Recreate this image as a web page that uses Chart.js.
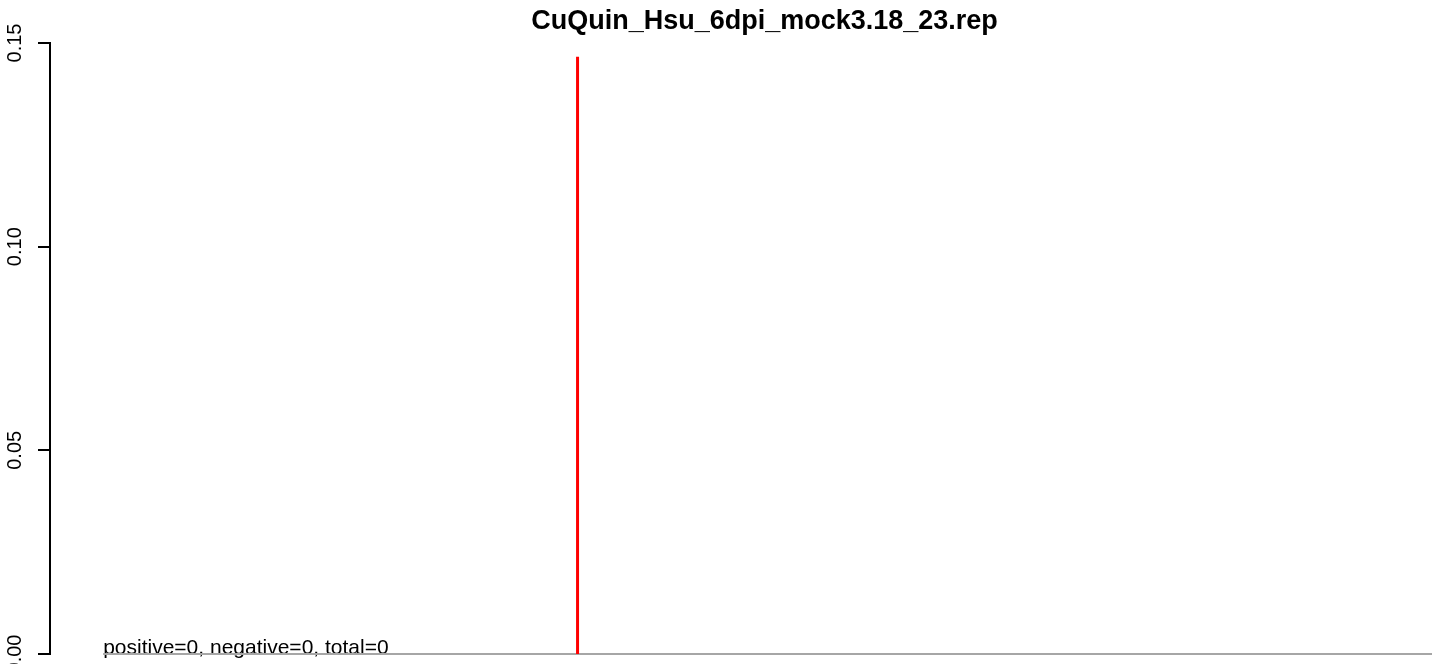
<!DOCTYPE html>
<html>
<head>
<meta charset="utf-8">
<script src="https://cdn.jsdelivr.net/npm/chart.js@4/dist/chart.umd.min.js"></script>
<style>
  html, body { margin: 0; padding: 0; background: #fff; overflow: hidden; }
  #wrap { width: 1529px; height: 664px; }
</style>
</head>
<body>
<div id="wrap"><canvas id="chart" width="1529" height="664"></canvas></div>
<script>
const chartTitle = "CuQuin_Hsu_6dpi_mock3.18_23.rep";
const baselineX = [0, 1000];
const baselineY = [0, 0];
const markX = [357, 357];
const markY = [0, 0.1466];
const yTicks = [0, 0.05, 0.10, 0.15];
const yTickLabels = ["0.00", "0.05", "0.10", "0.15"];
const countNames = ["positive", "negative", "total"];
const countValues = [0, 0, 0];

const toPoints = (xs, ys) => xs.map((x, i) => ({ x: x, y: ys[i] }));

// R style rotated y labels and the count note under the plot
const rLabels = {
  id: "rLabels",
  beforeDatasetsDraw(chart) {
    const { ctx, scales } = chart;
    ctx.save();
    ctx.fillStyle = "#000";
    ctx.font = "21px 'Liberation Sans', Arial, sans-serif";
    ctx.textAlign = "left";
    ctx.textBaseline = "alphabetic";
    let note = countNames.map((n, i) => n + "=" + countValues[i]).join(", ");
    ctx.fillText(note, scales.x.getPixelForValue(baselineX[0]), scales.y.getPixelForValue(0));
    ctx.restore();
  },
  afterDraw(chart) {
    const { ctx, scales } = chart;
    ctx.save();
    ctx.fillStyle = "#000";
    ctx.font = "20px 'Liberation Sans', Arial, sans-serif";
    ctx.textAlign = "center";
    ctx.textBaseline = "alphabetic";
    yTicks.forEach((v, i) => {
      ctx.save();
      ctx.translate(21, scales.y.getPixelForValue(v));
      ctx.rotate(-Math.PI / 2);
      ctx.fillText(yTickLabels[i], 0, 0);
      ctx.restore();
    });
    ctx.restore();
  }
};

new Chart(document.getElementById("chart"), {
  type: "line",
  data: {
    datasets: [
      {
        data: toPoints(markX, markY),
        borderColor: "#ff0000",
        borderWidth: 3,
        pointRadius: 0,
        clip: false,
        order: 0
      },
      {
        data: toPoints(baselineX, baselineY),
        borderColor: "#a6a6a6",
        borderWidth: 2,
        pointRadius: 0,
        clip: false,
        order: 1
      }
    ]
  },
  options: {
    responsive: false,
    animation: false,
    events: [],
    layout: { padding: { left: 0, right: 0, top: 0, bottom: 10 } },
    plugins: {
      legend: { display: false },
      tooltip: { enabled: false },
      title: {
        display: true,
        text: chartTitle,
        color: "#000",
        font: { family: "'Liberation Sans', Arial, sans-serif", size: 27, weight: "bold", lineHeight: 1.2 },
        padding: { top: 5, bottom: 5.6 }
      }
    },
    scales: {
      x: {
        type: "linear",
        display: false,
        min: -40,
        max: 1073
      },
      y: {
        type: "linear",
        min: 0,
        max: 0.15,
        afterFit: s => { s.width = 50; },
        afterBuildTicks: s => { s.ticks = yTicks.map(v => ({ value: v })); },
        ticks: { display: false },
        grid: {
          drawOnChartArea: false,
          drawTicks: true,
          tickLength: 12,
          color: "#000",
          lineWidth: 2
        },
        border: { display: true, color: "#000", width: 2 }
      }
    }
  },
  plugins: [rLabels]
});
</script>
</body>
</html>
